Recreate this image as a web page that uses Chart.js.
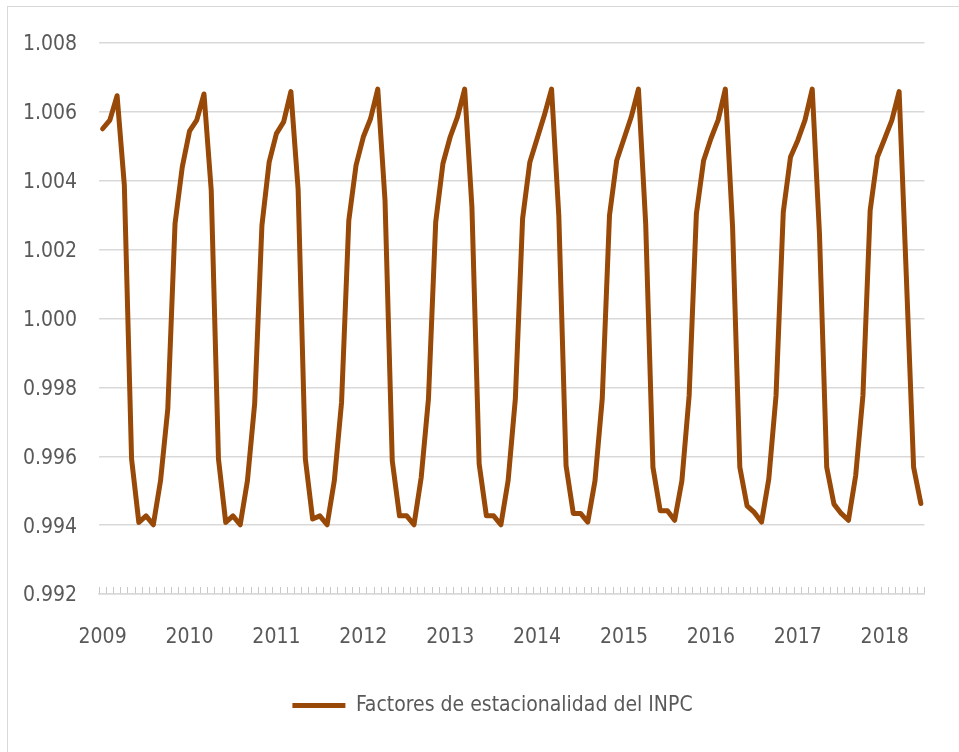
<!DOCTYPE html>
<html lang="es">
<head>
    <meta charset="UTF-8">
    <title>Factores de estacionalidad del INPC</title>
    <script src="https://cdn.jsdelivr.net/npm/chart.js@4.4.1/dist/chart.umd.min.js"></script>
    <style>
        body {
            margin: 0;
            background: #ffffff;
        }
        .wrap {
            position: relative;
            width: 959px;
            height: 752px;
            overflow: hidden;
        }
        .frame {
            position: absolute;
            left: 7px;
            top: 6px;
            width: 1000px;
            height: 800px;
            border: 1.5px solid #d9d9d9;
        }
        canvas {
            position: absolute;
            left: 0;
            top: 0;
        }
    </style>
</head>
<body>
<div class="wrap">
    <div class="frame"></div>
    <canvas id="chart" width="959" height="752"></canvas>
</div>
<script>
    // Monthly seasonal factors, Jan 2009 - Jun 2018
    const years = ['2009', '2010', '2011', '2012', '2013', '2014', '2015', '2016', '2017', '2018'];
    const months = ['01', '02', '03', '04', '05', '06', '07', '08', '09', '10', '11', '12'];
    const factores = [
        1.00551, 1.00576, 1.00647, 1.00387, 0.99592, 0.99408, 0.99427, 0.99401, 0.99529, 0.99737, 1.00275, 1.00440,
        1.00544, 1.00576, 1.00652, 1.00372, 0.99592, 0.99408, 0.99427, 0.99401, 0.99529, 0.99753, 1.00270, 1.00454,
        1.00537, 1.00571, 1.00659, 1.00375, 0.99592, 0.99418, 0.99427, 0.99401, 0.99529, 0.99757, 1.00285, 1.00445,
        1.00527, 1.00580, 1.00666, 1.00343, 0.99587, 0.99427, 0.99427, 0.99401, 0.99539, 0.99767, 1.00280, 1.00450,
        1.00527, 1.00585, 1.00666, 1.00324, 0.99578, 0.99427, 0.99427, 0.99401, 0.99529, 0.99767, 1.00290, 1.00454,
        1.00522, 1.00590, 1.00666, 1.00299, 0.99573, 0.99434, 0.99434, 0.99409, 0.99529, 0.99767, 1.00299, 1.00459,
        1.00522, 1.00585, 1.00666, 1.00275, 0.99568, 0.99442, 0.99442, 0.99414, 0.99529, 0.99776, 1.00304, 1.00459,
        1.00522, 1.00576, 1.00666, 1.00265, 0.99568, 0.99456, 0.99437, 0.99409, 0.99534, 0.99776, 1.00309, 1.00469,
        1.00517, 1.00576, 1.00666, 1.00246, 0.99568, 0.99461, 0.99434, 0.99414, 0.99544, 0.99776, 1.00314, 1.00469,
        1.00522, 1.00576, 1.00659, 1.00120, 0.99568, 0.99463
    ];
    const yTicks = [0.992, 0.994, 0.996, 0.998, 1.000, 1.002, 1.004, 1.006, 1.008];

    const categories = years.flatMap(y => months.map(m => y + '-' + m)).slice(0, factores.length);

    const fontFamily = "'DejaVu Sans Condensed', 'Liberation Sans', sans-serif";
    const textColor = '#595959';
    const gridColor = '#d9d9d9';
    const lineColor = '#984807';

    // nudge the legend right, the original centres it under the plot area
    const legendShift = {
        id: 'legendShift',
        afterLayout(chart) {
            chart.legend.left += 30;
            chart.legend.right += 30;
        }
    };

    new Chart(document.getElementById('chart'), {
        type: 'line',
        data: {
            labels: categories,
            datasets: [{
                label: 'Factores de estacionalidad del INPC',
                data: factores,
                borderColor: lineColor,
                backgroundColor: lineColor,
                borderWidth: 5,
                borderCapStyle: 'round',
                borderJoinStyle: 'round',
                pointRadius: 0,
                tension: 0
            }]
        },
        options: {
            responsive: false,
            animation: false,
            layout: {
                padding: { left: 0, right: 34, top: 43, bottom: 26 }
            },
            scales: {
                x: {
                    type: 'category',
                    offset: true,
                    afterFit: (scale) => { scale.height = 91; },
                    grid: {
                        offset: true,
                        drawOnChartArea: false,
                        drawTicks: true,
                        tickLength: -7,
                        color: '#c8c8c8',
                        lineWidth: 1
                    },
                    border: { display: true, color: gridColor, width: 1.5 },
                    ticks: {
                        autoSkip: false,
                        minRotation: 0,
                        maxRotation: 0,
                        padding: 38,
                        color: textColor,
                        font: { family: fontFamily, size: 21 },
                        callback: function (value) {
                            const lab = this.getLabelForValue(value);
                            return lab.endsWith('-01') ? lab.slice(0, 4) : '';
                        }
                    }
                },
                y: {
                    min: 0.992,
                    max: 1.008,
                    afterFit: (scale) => { scale.width = 99; },
                    afterBuildTicks: (scale) => { scale.ticks = yTicks.map(v => ({ value: v })); },
                    grid: {
                        color: gridColor,
                        lineWidth: 1.5,
                        drawTicks: false
                    },
                    border: { display: false },
                    ticks: {
                        padding: 22,
                        labelOffset: 2,
                        color: textColor,
                        font: { family: fontFamily, size: 21 },
                        callback: (v) => v.toFixed(3)
                    }
                }
            },
            plugins: {
                legend: {
                    position: 'bottom',
                    labels: {
                        usePointStyle: true,
                        pointStyle: 'line',
                        pointStyleWidth: 53,
                        color: textColor,
                        font: { family: fontFamily, size: 21 },
                        padding: 10
                    }
                },
                tooltip: { enabled: false }
            }
        },
        plugins: [legendShift]
    });
</script>
</body>
</html>
